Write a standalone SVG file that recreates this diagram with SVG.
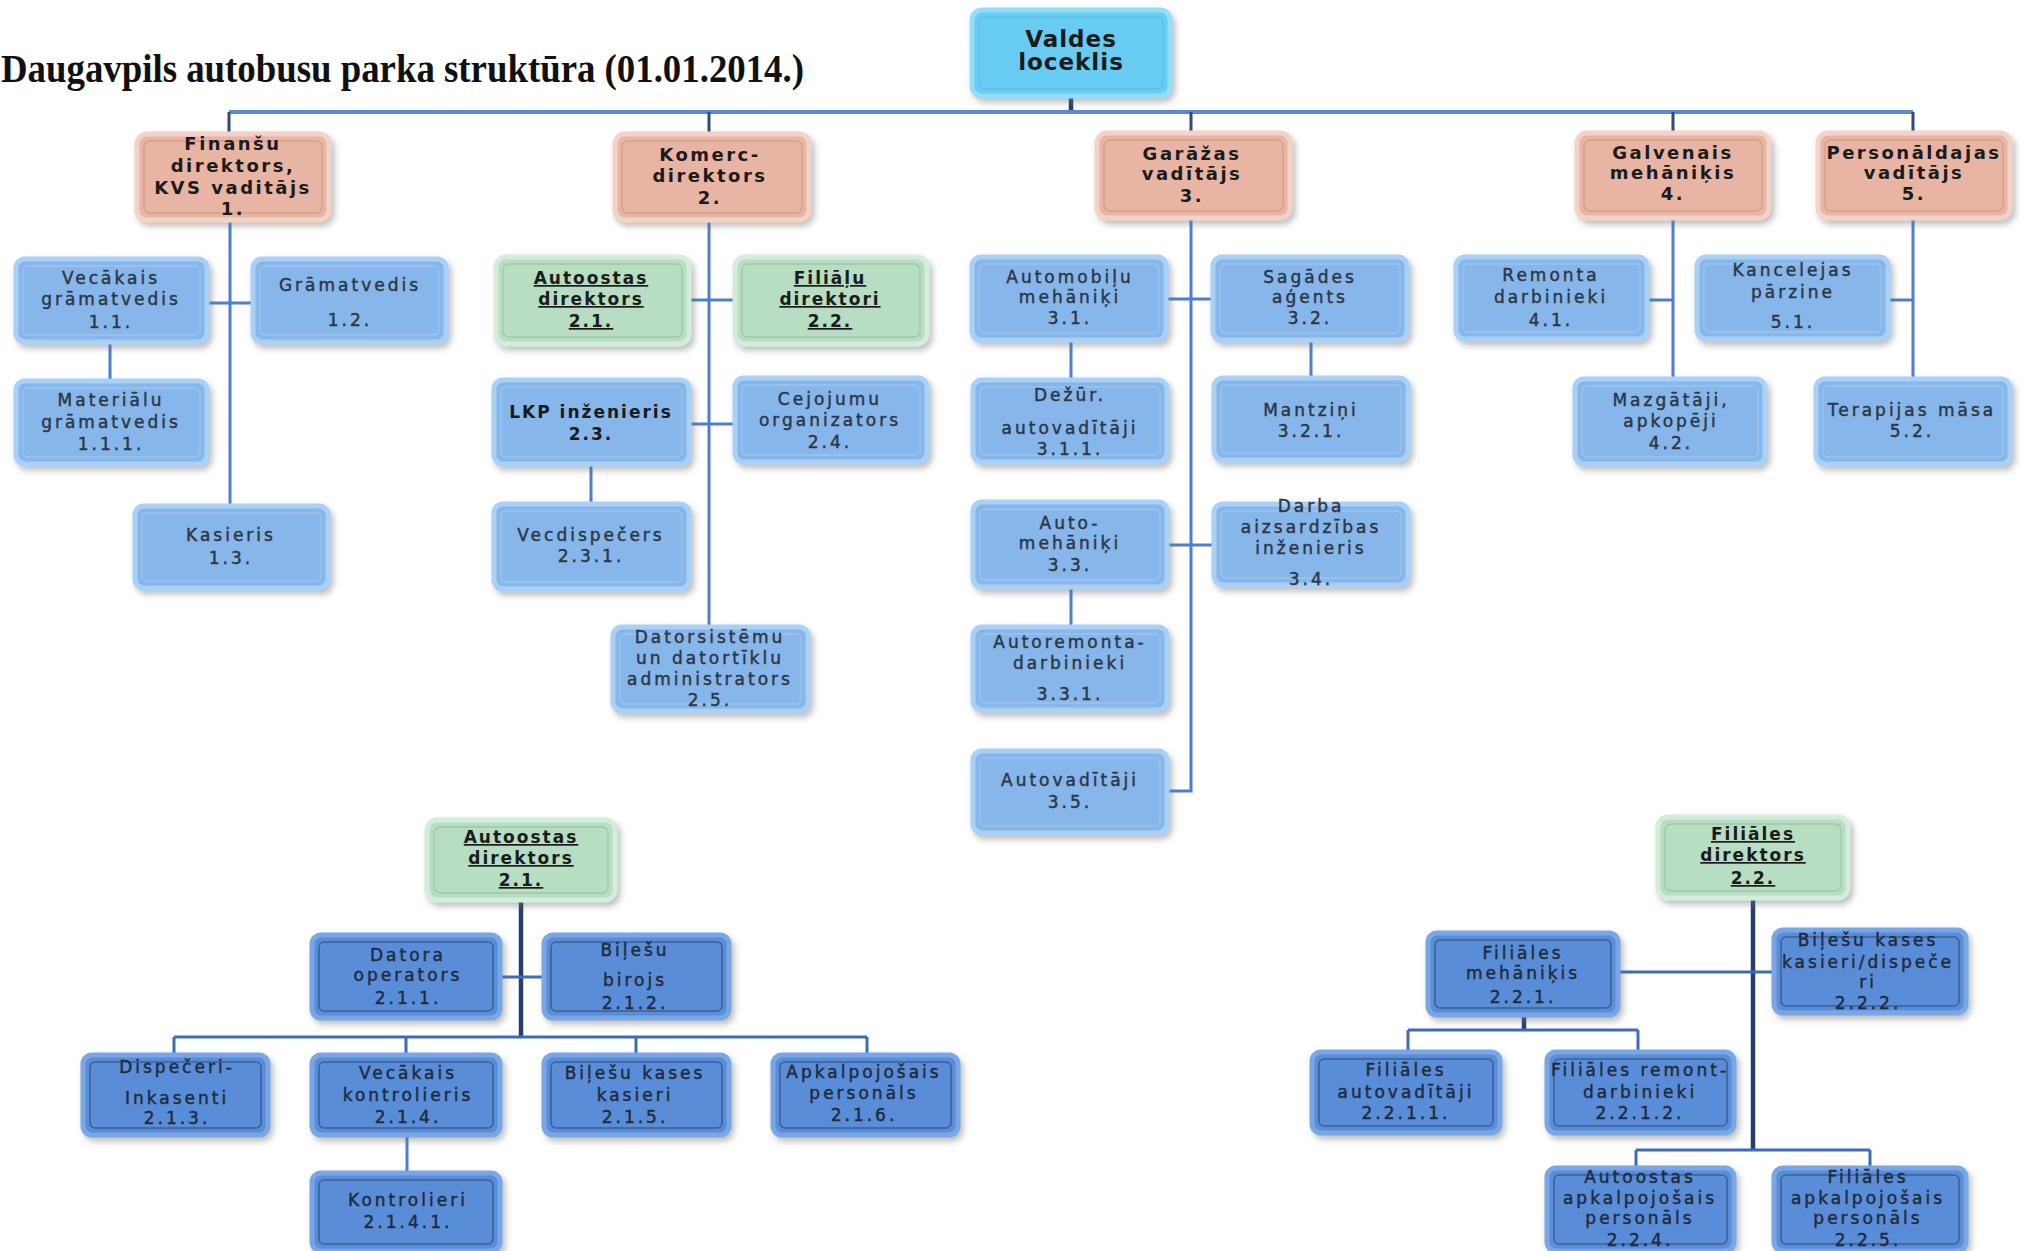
<svg xmlns="http://www.w3.org/2000/svg" width="2025" height="1251" viewBox="0 0 2025 1251">
<defs>
<filter id="sh" x="-10%" y="-10%" width="125%" height="135%"><feDropShadow dx="3" dy="4" stdDeviation="3" flood-color="#6f6f6f" flood-opacity="0.45"/></filter>
<style>
.o{stroke-width:5;filter:url(#sh)}
.i{fill:none;stroke-width:1.3}
.nb .o{fill:#87B6EA;stroke:#A9D0F6}
.nb .i{stroke:#9DC4EE}
.nd .o{fill:#5A8DD8;stroke:#79A7E5}
.nd .i{stroke:#3D5F96;stroke-width:1.6}
.np .o{fill:#E8B4A4;stroke:#F3D2C7}
.np .i{stroke:#D59E8D}
.ng .o{fill:#B7DEC2;stroke:#D3EDDA}
.ng .i{stroke:#9FC7AA}
.nv .o{fill:#67CCF2;stroke:#92DDF7}
.nv .i{stroke:#5BBFE6}
text{font-family:"DejaVu Sans",Verdana,sans-serif;text-anchor:middle}
.t{font-size:17px;letter-spacing:3px;fill:#2C3646;stroke:#2C3646;stroke-width:0.45px}
.nd .t{fill:#1F2B3D;stroke:#1F2B3D}
.tb{font-size:18px;font-weight:bold;letter-spacing:2.5px;fill:#1B1B1B}
.tl{font-size:17px;font-weight:bold;letter-spacing:2px;fill:#1B1B1B}
.tu{text-decoration:underline}
.tv{font-size:23px;font-weight:bold;letter-spacing:1px;fill:#1B1B1B}
.title{font-family:"Liberation Serif","Times New Roman",serif;font-weight:bold;font-size:40px;text-anchor:start;fill:#111}
#connectors path{fill:none}
.l1{stroke:#2E4B7D;stroke-width:3}
.l2{stroke:#4E7ED0;stroke-width:3}
.bus{stroke:#5A8AD3;stroke-width:4}
.dk{stroke:#253F6E;stroke-width:4.5}
.lb{stroke:#3E6BB7;stroke-width:3}
</style>
</defs>
<rect width="2025" height="1251" fill="#ffffff"/>
<text class="title" x="1" y="82" textLength="803" lengthAdjust="spacingAndGlyphs">Daugavpils autobusu parka struktūra (01.01.2014.)</text>

<g id="connectors">
<path class="dk" d="M1071 96V112"/>
<path class="bus" d="M229 112H1913"/>
<path class="l1" d="M229 112V134M709 112V134M1191 112V133M1673 112V133M1913 112V133"/>
<path class="l2" d="M230 220V506M207 303H253M110 342V381"/>
<path class="l2" d="M709 220V627M689 300H735M689 424H735M591 464V504"/>
<path class="l2" d="M1191 218V791H1167M1166 299H1213M1167 545H1214M1071 340V380M1071 587V627M1311 340V378"/>
<path class="l2" d="M1673 218V379M1647 300H1673M1913 218V379M1888 300H1913"/>
<path class="dk" d="M521 900V1037"/>
<path class="lb" d="M500 977H544M174 1037H867M174 1037V1055M406 1037V1055M636 1037V1055M867 1037V1055"/>
<path class="l2" d="M407 1135V1173"/>
<path class="dk" d="M1753 898V1150M1524 1015V1030"/>
<path class="lb" d="M1618 972H1774M1408 1030H1638M1408 1030V1052M1638 1030V1052M1636 1150H1870M1636 1150V1168M1870 1150V1168"/>
</g>

<g id="n0" class="nv"><rect class="o" x="972" y="10" width="198" height="86" rx="10"/><rect class="i" x="979" y="17" width="184" height="72" rx="6"/><text class="tv"><tspan x="1071" y="47">Valdes</tspan><tspan x="1071" y="70">loceklis</tspan></text></g>

<g id="n1" class="np"><rect class="o" x="137" y="134" width="192" height="86" rx="10"/><rect class="i" x="144" y="141" width="178" height="72" rx="6"/><text class="tb"><tspan x="233" y="150">Finanšu</tspan><tspan x="233" y="172">direktors,</tspan><tspan x="233" y="194">KVS vaditājs</tspan><tspan x="233" y="215">1.</tspan></text></g>
<g id="n2" class="np"><rect class="o" x="615" y="134" width="194" height="86" rx="10"/><rect class="i" x="622" y="141" width="180" height="72" rx="6"/><text class="tb"><tspan x="710" y="161">Komerc-</tspan><tspan x="710" y="182">direktors</tspan><tspan x="710" y="204">2.</tspan></text></g>
<g id="n3" class="np"><rect class="o" x="1097" y="133" width="193" height="85" rx="10"/><rect class="i" x="1104" y="140" width="179" height="71" rx="6"/><text class="tb"><tspan x="1192" y="160">Garāžas</tspan><tspan x="1192" y="180">vadītājs</tspan><tspan x="1192" y="202">3.</tspan></text></g>
<g id="n4" class="np"><rect class="o" x="1577" y="133" width="192" height="85" rx="10"/><rect class="i" x="1584" y="140" width="178" height="71" rx="6"/><text class="tb"><tspan x="1673" y="159">Galvenais</tspan><tspan x="1673" y="179">mehāniķis</tspan><tspan x="1673" y="200">4.</tspan></text></g>
<g id="n5" class="np"><rect class="o" x="1818" y="133" width="192" height="85" rx="10"/><rect class="i" x="1825" y="140" width="178" height="71" rx="6"/><text class="tb"><tspan x="1914" y="159">Personāldajas</tspan><tspan x="1914" y="179">vadītājs</tspan><tspan x="1914" y="200">5.</tspan></text></g>

<g id="n11" class="nb"><rect class="o" x="16" y="259" width="191" height="83" rx="9"/><rect class="i" x="23" y="266" width="177" height="69" rx="5"/><text class="t"><tspan x="111" y="284">Vecākais</tspan><tspan x="111" y="305">grāmatvedis</tspan><tspan x="111" y="328">1.1.</tspan></text></g>
<g id="n12" class="nb"><rect class="o" x="253" y="259" width="193" height="83" rx="9"/><rect class="i" x="260" y="266" width="179" height="69" rx="5"/><text class="t"><tspan x="350" y="291">Grāmatvedis</tspan><tspan x="350" y="326">1.2.</tspan></text></g>
<g id="n111" class="nb"><rect class="o" x="16" y="381" width="191" height="83" rx="9"/><rect class="i" x="23" y="388" width="177" height="69" rx="5"/><text class="t"><tspan x="111" y="406">Materiālu</tspan><tspan x="111" y="428">grāmatvedis</tspan><tspan x="111" y="450">1.1.1.</tspan></text></g>
<g id="n13" class="nb"><rect class="o" x="135" y="506" width="193" height="82" rx="9"/><rect class="i" x="142" y="513" width="179" height="68" rx="5"/><text class="t"><tspan x="231" y="541">Kasieris</tspan><tspan x="231" y="564">1.3.</tspan></text></g>

<g id="n21" class="ng"><rect class="o" x="496" y="257" width="193" height="87" rx="10"/><rect class="i" x="503" y="264" width="179" height="73" rx="6"/><text class="tl tu"><tspan x="591" y="284">Autoostas</tspan><tspan x="591" y="305">direktors</tspan><tspan x="591" y="327">2.1.</tspan></text></g>
<g id="n22" class="ng"><rect class="o" x="735" y="257" width="192" height="87" rx="10"/><rect class="i" x="742" y="264" width="178" height="73" rx="6"/><text class="tl tu"><tspan x="830" y="284">Filiāļu</tspan><tspan x="830" y="305">direktori</tspan><tspan x="830" y="327">2.2.</tspan></text></g>
<g id="n23" class="nb"><rect class="o" x="494" y="380" width="195" height="84" rx="9"/><rect class="i" x="501" y="387" width="181" height="70" rx="5"/><text class="tl"><tspan x="591" y="418">LKP inženieris</tspan><tspan x="591" y="440">2.3.</tspan></text></g>
<g id="n24" class="nb"><rect class="o" x="735" y="378" width="192" height="84" rx="9"/><rect class="i" x="742" y="385" width="178" height="70" rx="5"/><text class="t"><tspan x="830" y="405">Cejojumu</tspan><tspan x="830" y="426">organizators</tspan><tspan x="830" y="448">2.4.</tspan></text></g>
<g id="n231" class="nb"><rect class="o" x="494" y="504" width="195" height="85" rx="9"/><rect class="i" x="501" y="511" width="181" height="71" rx="5"/><text class="t"><tspan x="591" y="541">Vecdispečers</tspan><tspan x="591" y="562">2.3.1.</tspan></text></g>
<g id="n25" class="nb"><rect class="o" x="613" y="627" width="195" height="84" rx="9"/><rect class="i" x="620" y="634" width="181" height="70" rx="5"/><text class="t"><tspan x="710" y="643">Datorsistēmu</tspan><tspan x="710" y="664">un datortīklu</tspan><tspan x="710" y="685">administrators</tspan><tspan x="710" y="706">2.5.</tspan></text></g>

<g id="n31" class="nb"><rect class="o" x="972" y="257" width="194" height="83" rx="9"/><rect class="i" x="979" y="264" width="180" height="69" rx="5"/><text class="t"><tspan x="1070" y="283">Automobiļu</tspan><tspan x="1070" y="303">mehāniķi</tspan><tspan x="1070" y="324">3.1.</tspan></text></g>
<g id="n32" class="nb"><rect class="o" x="1213" y="257" width="194" height="83" rx="9"/><rect class="i" x="1220" y="264" width="180" height="69" rx="5"/><text class="t"><tspan x="1310" y="283">Sagādes</tspan><tspan x="1310" y="303">aģents</tspan><tspan x="1310" y="324">3.2.</tspan></text></g>
<g id="n311" class="nb"><rect class="o" x="973" y="380" width="194" height="82" rx="9"/><rect class="i" x="980" y="387" width="180" height="68" rx="5"/><text class="t"><tspan x="1070" y="401">Dežūr.</tspan><tspan x="1070" y="434">autovadītāji</tspan><tspan x="1070" y="455">3.1.1.</tspan></text></g>
<g id="n321" class="nb"><rect class="o" x="1214" y="378" width="194" height="82" rx="9"/><rect class="i" x="1221" y="385" width="180" height="68" rx="5"/><text class="t"><tspan x="1311" y="416">Mantziņi</tspan><tspan x="1311" y="437">3.2.1.</tspan></text></g>
<g id="n33" class="nb"><rect class="o" x="973" y="502" width="194" height="85" rx="9"/><rect class="i" x="980" y="509" width="180" height="71" rx="5"/><text class="t"><tspan x="1070" y="529">Auto-</tspan><tspan x="1070" y="549">mehāniķi</tspan><tspan x="1070" y="571">3.3.</tspan></text></g>
<g id="n34" class="nb"><rect class="o" x="1214" y="504" width="194" height="81" rx="9"/><rect class="i" x="1221" y="511" width="180" height="67" rx="5"/><text class="t"><tspan x="1311" y="512">Darba</tspan><tspan x="1311" y="533">aizsardzības</tspan><tspan x="1311" y="554">inženieris</tspan><tspan x="1311" y="585">3.4.</tspan></text></g>
<g id="n331" class="nb"><rect class="o" x="973" y="627" width="194" height="83" rx="9"/><rect class="i" x="980" y="634" width="180" height="69" rx="5"/><text class="t"><tspan x="1070" y="648">Autoremonta-</tspan><tspan x="1070" y="669">darbinieki</tspan><tspan x="1070" y="700">3.3.1.</tspan></text></g>
<g id="n35" class="nb"><rect class="o" x="973" y="751" width="194" height="82" rx="9"/><rect class="i" x="980" y="758" width="180" height="68" rx="5"/><text class="t"><tspan x="1070" y="786">Autovadītāji</tspan><tspan x="1070" y="808">3.5.</tspan></text></g>

<g id="n41" class="nb"><rect class="o" x="1456" y="257" width="191" height="82" rx="9"/><rect class="i" x="1463" y="264" width="177" height="68" rx="5"/><text class="t"><tspan x="1551" y="281">Remonta</tspan><tspan x="1551" y="303">darbinieki</tspan><tspan x="1551" y="326">4.1.</tspan></text></g>
<g id="n42" class="nb"><rect class="o" x="1575" y="379" width="190" height="85" rx="9"/><rect class="i" x="1582" y="386" width="176" height="71" rx="5"/><text class="t"><tspan x="1671" y="406">Mazgātāji,</tspan><tspan x="1671" y="427">apkopēji</tspan><tspan x="1671" y="449">4.2.</tspan></text></g>
<g id="n51" class="nb"><rect class="o" x="1697" y="257" width="191" height="82" rx="9"/><rect class="i" x="1704" y="264" width="177" height="68" rx="5"/><text class="t"><tspan x="1793" y="276">Kancelejas</tspan><tspan x="1793" y="298">pārzine</tspan><tspan x="1793" y="328">5.1.</tspan></text></g>
<g id="n52" class="nb"><rect class="o" x="1816" y="379" width="194" height="85" rx="9"/><rect class="i" x="1823" y="386" width="180" height="71" rx="5"/><text class="t"><tspan x="1912" y="416">Terapijas māsa</tspan><tspan x="1912" y="437">5.2.</tspan></text></g>

<g id="b21" class="ng"><rect class="o" x="427" y="820" width="188" height="80" rx="10"/><rect class="i" x="434" y="827" width="174" height="66" rx="6"/><text class="tl tu"><tspan x="521" y="843">Autoostas</tspan><tspan x="521" y="864">direktors</tspan><tspan x="521" y="886">2.1.</tspan></text></g>
<g id="b211" class="nd"><rect class="o" x="312" y="935" width="188" height="83" rx="9"/><rect class="i" x="319" y="942" width="174" height="69" rx="5"/><text class="t"><tspan x="408" y="961">Datora</tspan><tspan x="408" y="981">operators</tspan><tspan x="408" y="1004">2.1.1.</tspan></text></g>
<g id="b212" class="nd"><rect class="o" x="544" y="935" width="185" height="83" rx="9"/><rect class="i" x="551" y="942" width="171" height="69" rx="5"/><text class="t"><tspan x="635" y="956">Biļešu</tspan><tspan x="635" y="986">birojs</tspan><tspan x="635" y="1009">2.1.2.</tspan></text></g>
<g id="b213" class="nd"><rect class="o" x="83" y="1055" width="185" height="80" rx="9"/><rect class="i" x="90" y="1062" width="171" height="66" rx="5"/><text class="t"><tspan x="177" y="1073">Dispečeri-</tspan><tspan x="177" y="1104">Inkasenti</tspan><tspan x="177" y="1124">2.1.3.</tspan></text></g>
<g id="b214" class="nd"><rect class="o" x="312" y="1055" width="188" height="80" rx="9"/><rect class="i" x="319" y="1062" width="174" height="66" rx="5"/><text class="t"><tspan x="408" y="1079">Vecākais</tspan><tspan x="408" y="1101">kontrolieris</tspan><tspan x="408" y="1123">2.1.4.</tspan></text></g>
<g id="b215" class="nd"><rect class="o" x="544" y="1055" width="185" height="80" rx="9"/><rect class="i" x="551" y="1062" width="171" height="66" rx="5"/><text class="t"><tspan x="635" y="1079">Biļešu kases</tspan><tspan x="635" y="1101">kasieri</tspan><tspan x="635" y="1123">2.1.5.</tspan></text></g>
<g id="b216" class="nd"><rect class="o" x="773" y="1055" width="185" height="80" rx="9"/><rect class="i" x="780" y="1062" width="171" height="66" rx="5"/><text class="t"><tspan x="864" y="1078">Apkalpojošais</tspan><tspan x="864" y="1099">personāls</tspan><tspan x="864" y="1121">2.1.6.</tspan></text></g>
<g id="b2141" class="nd"><rect class="o" x="312" y="1173" width="188" height="78" rx="9"/><rect class="i" x="319" y="1180" width="174" height="64" rx="5"/><text class="t"><tspan x="408" y="1206">Kontrolieri</tspan><tspan x="408" y="1228">2.1.4.1.</tspan></text></g>

<g id="b22" class="ng"><rect class="o" x="1658" y="817" width="190" height="81" rx="10"/><rect class="i" x="1665" y="824" width="176" height="67" rx="6"/><text class="tl tu"><tspan x="1753" y="840">Filiāles</tspan><tspan x="1753" y="861">direktors</tspan><tspan x="1753" y="884">2.2.</tspan></text></g>
<g id="b221" class="nd"><rect class="o" x="1428" y="933" width="190" height="82" rx="9"/><rect class="i" x="1435" y="940" width="176" height="68" rx="5"/><text class="t"><tspan x="1523" y="959">Filiāles</tspan><tspan x="1523" y="979">mehāniķis</tspan><tspan x="1523" y="1003">2.2.1.</tspan></text></g>
<g id="b222" class="nd"><rect class="o" x="1774" y="930" width="192" height="83" rx="9"/><rect class="i" x="1781" y="937" width="178" height="69" rx="5"/><text class="t"><tspan x="1868" y="946">Biļešu kases</tspan><tspan x="1868" y="968">kasieri/dispeče</tspan><tspan x="1868" y="988">ri</tspan><tspan x="1868" y="1009">2.2.2.</tspan></text></g>
<g id="b2211" class="nd"><rect class="o" x="1312" y="1052" width="188" height="81" rx="9"/><rect class="i" x="1319" y="1059" width="174" height="67" rx="5"/><text class="t"><tspan x="1406" y="1076">Filiāles</tspan><tspan x="1406" y="1098">autovadītāji</tspan><tspan x="1406" y="1119">2.2.1.1.</tspan></text></g>
<g id="b2212" class="nd"><rect class="o" x="1547" y="1052" width="187" height="81" rx="9"/><rect class="i" x="1554" y="1059" width="173" height="67" rx="5"/><text class="t"><tspan x="1640" y="1076">Filiāles remont-</tspan><tspan x="1640" y="1098">darbinieki</tspan><tspan x="1640" y="1119">2.2.1.2.</tspan></text></g>
<g id="b224" class="nd"><rect class="o" x="1547" y="1168" width="187" height="83" rx="9"/><rect class="i" x="1554" y="1175" width="173" height="69" rx="5"/><text class="t"><tspan x="1640" y="1183">Autoostas</tspan><tspan x="1640" y="1204">apkalpojošais</tspan><tspan x="1640" y="1224">personāls</tspan><tspan x="1640" y="1246">2.2.4.</tspan></text></g>
<g id="b225" class="nd"><rect class="o" x="1774" y="1168" width="192" height="83" rx="9"/><rect class="i" x="1781" y="1175" width="178" height="69" rx="5"/><text class="t"><tspan x="1868" y="1183">Filiāles</tspan><tspan x="1868" y="1204">apkalpojošais</tspan><tspan x="1868" y="1224">personāls</tspan><tspan x="1868" y="1246">2.2.5.</tspan></text></g>
</svg>
